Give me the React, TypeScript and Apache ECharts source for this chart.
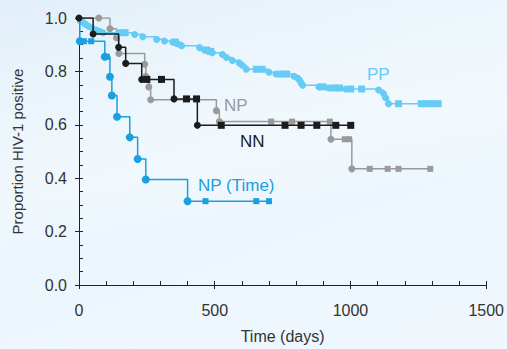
import React, { useEffect, useRef } from "react";
import * as echarts from "echarts";

// ---------- data ----------
const xTickStep = 500;
const yTickStep = 0.2;

// PP (light blue)
const ppEventDays = [5, 15, 25, 35, 48, 62, 75, 88, 205, 235, 286, 315, 345, 360, 372, 378, 444, 462, 478, 491, 528, 543, 565, 590, 601, 616, 700, 726, 792, 805, 812, 818, 824, 884, 920, 983, 1104, 1122, 1129, 1140];
const ppEventProps = [0.99, 0.983, 0.976, 0.969, 0.962, 0.955, 0.95, 0.945, 0.938, 0.93, 0.92, 0.914, 0.91, 0.905, 0.9, 0.896, 0.889, 0.88, 0.875, 0.87, 0.863, 0.852, 0.841, 0.832, 0.823, 0.808, 0.797, 0.79, 0.782, 0.775, 0.768, 0.757, 0.748, 0.742, 0.738, 0.734, 0.73, 0.716, 0.701, 0.679];
const ppCensorDays = [150, 170, 355, 470, 485, 653, 675, 745, 765, 900, 940, 960, 1001, 1041, 1177, 1261, 1280, 1300, 1323];
const ppEndDay = 1335;

// NP (Time) (blue)
const nptEventDays = [3, 95, 114, 121, 140, 187, 216, 246, 400];
const nptEventProps = [0.913, 0.855, 0.78, 0.71, 0.63, 0.553, 0.472, 0.395, 0.314];
const nptCensorDays = [18, 45, 103, 466, 653, 700];
const nptEndDay = 706;

// NN (black)
const nnEventDays = [52, 146, 172, 231, 350, 436];
const nnEventProps = [0.94, 0.89, 0.83, 0.77, 0.697, 0.598];
const nnCensorDays = [250, 304, 396, 433, 524, 759, 818, 876, 946, 1001];
const nnEndDay = 1005;

// NP (grey)
const npEventDays = [114, 138, 147, 242, 246, 257, 264, 506, 517, 928, 1005];
const npEventProps = [0.96, 0.926, 0.867, 0.827, 0.782, 0.742, 0.694, 0.653, 0.612, 0.546, 0.435];
const npCensorDays = [708, 785, 924, 979, 995, 1071, 1137, 1177, 1294];
const npDotDays = [73];
const npEndDay = 1297;

type Pt = { t: number; s: number; kind: "start" | "event" | "censor" | "dot" | "end" };

function buildCurve(
  evDays: number[],
  evProps: number[],
  cenDays: number[],
  endDay: number,
  dotDays: number[] = []
): Pt[] {
  const raw: { t: number; kind: Pt["kind"]; s?: number }[] = [];
  evDays.forEach((t, i) => raw.push({ t, kind: "event", s: evProps[i] }));
  cenDays.forEach((t) => raw.push({ t, kind: "censor" }));
  dotDays.forEach((t) => raw.push({ t, kind: "dot" }));
  raw.sort((a, b) => a.t - b.t);
  const pts: Pt[] = [{ t: 0, s: 1, kind: "start" }];
  let level = 1;
  raw.forEach((r) => {
    if (r.kind === "event") level = r.s as number;
    pts.push({ t: r.t, s: level, kind: r.kind });
  });
  pts.push({ t: endDay, s: level, kind: "end" });
  return pts;
}

const FONT = "'Liberation Sans', Arial, Helvetica, sans-serif";

function makeSeries(
  pts: Pt[],
  color: string,
  z: number,
  dotSize: number,
  rectSize: number,
  startDot = false
) {
  return {
    type: "line",
    step: "end",
    z,
    showAllSymbol: true,
    lineStyle: { color, width: 1.5 },
    itemStyle: { color },
    emphasis: { disabled: true },
    data: pts.map((p) => {
      let symbol = "none";
      let size = 0;
      if (p.kind === "event" || p.kind === "dot" || (p.kind === "start" && startDot)) {
        symbol = "circle";
        size = dotSize;
      } else if (p.kind === "censor") {
        symbol = "rect";
        size = rectSize;
      }
      return { value: [p.t, p.s], symbol, symbolSize: size };
    }),
  };
}

export default function App() {
  const ref = useRef<HTMLDivElement>(null);
  useEffect(() => {
    if (!ref.current) return;
    const chart = echarts.init(ref.current, undefined, { renderer: "svg" });
    const pp = buildCurve(ppEventDays, ppEventProps, ppCensorDays, ppEndDay);
    const npt = buildCurve(nptEventDays, nptEventProps, nptCensorDays, nptEndDay);
    const nn = buildCurve(nnEventDays, nnEventProps, nnCensorDays, nnEndDay);
    const np = buildCurve(npEventDays, npEventProps, npCensorDays, npEndDay, npDotDays);

    const axisColor = "#222";
    const labelStyle = { fontSize: 16, color: "#333", fontFamily: FONT };

    chart.setOption({
      animation: false,
      backgroundColor: "transparent",
      grid: { left: 79, right: 20, top: 18, bottom: 60, containLabel: false },
      xAxis: [
        {
          type: "value",
          min: 0,
          max: 1500,
          interval: xTickStep,
          axisLine: { show: true, lineStyle: { color: axisColor, width: 1 } },
          axisTick: { show: true, inside: true, length: 4, lineStyle: { color: axisColor } },
          minorTick: { show: true, splitNumber: 5, length: 4, lineStyle: { color: axisColor } },
          axisLabel: { ...labelStyle, margin: 17, formatter: (v: number) => String(v) },
          splitLine: { show: false },
          name: "Time (days)",
          nameLocation: "middle",
          nameGap: 43,
          nameTextStyle: { fontSize: 16, color: "#333", fontFamily: FONT },
        },
        {
          type: "value",
          min: 0,
          max: 1500,
          interval: xTickStep,
          position: "bottom",
          axisLine: { show: false },
          axisTick: { show: true, inside: false, length: 4, lineStyle: { color: axisColor } },
          axisLabel: { show: false },
          splitLine: { show: false },
        },
      ],
      yAxis: [
        {
          type: "value",
          min: 0,
          max: 1,
          interval: yTickStep,
          axisLine: { show: true, lineStyle: { color: axisColor, width: 1 } },
          axisTick: { show: true, inside: true, length: 4, lineStyle: { color: axisColor } },
          minorTick: { show: true, splitNumber: 4, length: 4, lineStyle: { color: axisColor } },
          axisLabel: { ...labelStyle, margin: 12, formatter: (v: number) => v.toFixed(1) },
          splitLine: { show: false },
          name: "Proportion HIV-1 positive",
          nameLocation: "middle",
          nameGap: 54,
          nameTextStyle: { fontSize: 15, color: "#333", fontFamily: FONT },
        },
        {
          type: "value",
          min: 0,
          max: 1,
          interval: yTickStep,
          position: "left",
          axisLine: { show: false },
          axisTick: { show: true, inside: false, length: 4, lineStyle: { color: axisColor } },
          axisLabel: { show: false },
          splitLine: { show: false },
        },
      ],
      series: [
        makeSeries(np, "#9a9a9a", 2, 7, 6),
        makeSeries(pp, "#66cbf5", 3, 7, 7),
        makeSeries(npt, "#18a0e0", 4, 8, 6),
        makeSeries(nn, "#1c1c1c", 5, 7, 7, true),
      ],
      graphic: [
        { type: "text", left: 367, top: 66, style: { text: "PP", fontSize: 17, fill: "#66cbf5", fontFamily: FONT } },
        { type: "text", left: 224, top: 97, style: { text: "NP", fontSize: 17, fill: "#9a9a9a", fontFamily: FONT } },
        { type: "text", left: 240, top: 133, style: { text: "NN", fontSize: 17, fill: "#1c1c1c", fontFamily: FONT } },
        { type: "text", left: 198, top: 177, style: { text: "NP (Time)", fontSize: 17, fill: "#18a0e0", fontFamily: FONT } },
      ],
    });
    return () => chart.dispose();
  }, []);

  return (
    <div
      style={{
        position: "fixed",
        left: 0,
        top: 0,
        width: 507,
        height: 349,
        background:
          "linear-gradient(170deg, rgba(255,255,255,0) 0%, rgba(255,255,255,0.35) 45%, rgba(255,255,255,0) 60%), linear-gradient(160deg, #e2eff9 0%, #eaf5fc 40%, #f0f8fe 100%)",
      }}
    >
      <div ref={ref} style={{ width: 507, height: 349 }} />
    </div>
  );
}
